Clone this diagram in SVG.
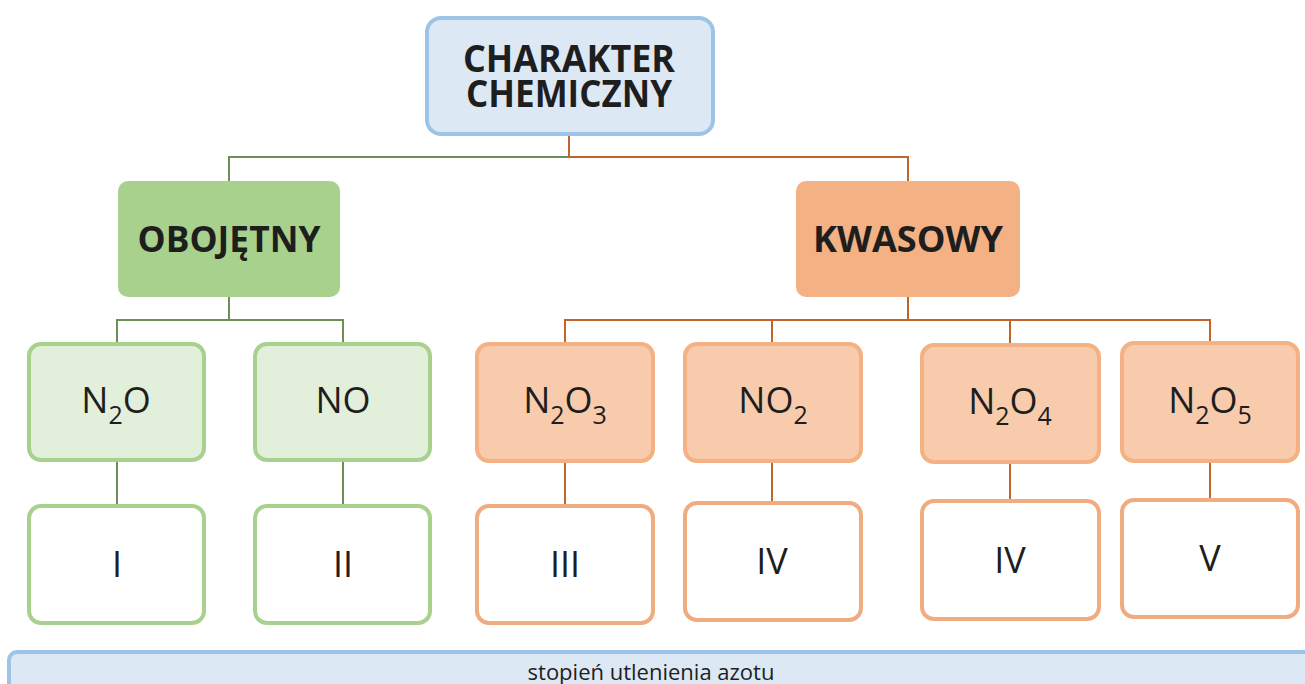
<svg xmlns="http://www.w3.org/2000/svg" width="1305" height="684" viewBox="0 0 1305 684">
<style>
text{font-family:"Open Sans","Liberation Sans",sans-serif;fill:#1e1e1e;text-anchor:middle}
.h{font-weight:bold;font-size:37px}
.m{font-weight:bold;font-size:35px}
.f{font-size:36px}
.s{font-size:25px}
.blue{fill:#dde8f5;stroke:#9dc3e6;stroke-width:4}
.gl{fill:#e2efda;stroke:#a9d18e;stroke-width:4}
.ol{fill:#f8cbad;stroke:#f4b183;stroke-width:4}
.gw{fill:#fff;stroke:#a9d18e;stroke-width:4}
.ow{fill:#fff;stroke:#f0ab80;stroke-width:4}
.cg{fill:none;stroke:#6b8f57;stroke-width:2}
.co{fill:none;stroke:#c0652e;stroke-width:2}
</style>
<rect width="1305" height="684" fill="#fff"/>
<g id="connectors">
<path class="cg" d="M569 157H229V181"/>
<path class="co" d="M569 135V157H908V181"/>
<path class="cg" d="M229 297V320M117 343V320H343V343M117 460V505M343 460V505"/>
<path class="co" d="M908 297V320M565 344V320H1210V342M772 320V343M1010 320V344M565 461V505M772 461V502M1010 462V500M1210 461V499"/>
</g>
<g id="root"><rect class="blue" x="427" y="18" width="286" height="116" rx="14"/><text class="h"><tspan x="569" y="72" textLength="212" lengthAdjust="spacingAndGlyphs">CHARAKTER</tspan><tspan x="569" y="107" textLength="206" lengthAdjust="spacingAndGlyphs">CHEMICZNY</tspan></text></g>
<g id="obojetny"><rect x="118" y="181" width="222" height="116" rx="10" fill="#a9d18e"/><text class="m" x="229" y="252" textLength="183" lengthAdjust="spacingAndGlyphs">OBOJĘTNY</text></g>
<g id="kwasowy"><rect x="796" y="181" width="224" height="116" rx="10" fill="#f4b183"/><text class="m" x="908" y="252" textLength="190" lengthAdjust="spacingAndGlyphs">KWASOWY</text></g>
<g id="n2o"><rect class="gl" x="29" y="344" width="175" height="116" rx="12"/><text class="f" x="116" y="413">N<tspan class="s" dy="11">2</tspan><tspan dy="-11">O</tspan></text></g>
<g id="no"><rect class="gl" x="255" y="344" width="175" height="116" rx="12"/><text class="f" x="343" y="413">NO</text></g>
<g id="n2o3"><rect class="ol" x="477" y="344" width="176" height="117" rx="12"/><text class="f" x="565" y="413">N<tspan class="s" dy="11">2</tspan><tspan dy="-11">O</tspan><tspan class="s" dy="11">3</tspan></text></g>
<g id="no2"><rect class="ol" x="685" y="344" width="176" height="117" rx="12"/><text class="f" x="773" y="413">NO<tspan class="s" dy="11">2</tspan></text></g>
<g id="n2o4"><rect class="ol" x="922" y="345" width="177" height="117" rx="12"/><text class="f" x="1010" y="414">N<tspan class="s" dy="11">2</tspan><tspan dy="-11">O</tspan><tspan class="s" dy="11">4</tspan></text></g>
<g id="n2o5"><rect class="ol" x="1122" y="343" width="176" height="118" rx="12"/><text class="f" x="1210" y="413">N<tspan class="s" dy="11">2</tspan><tspan dy="-11">O</tspan><tspan class="s" dy="11">5</tspan></text></g>
<g id="ox1"><rect class="gw" x="29" y="506" width="175" height="117" rx="12"/><text class="f" x="117" y="577">I</text></g>
<g id="ox2"><rect class="gw" x="255" y="506" width="175" height="117" rx="12"/><text class="f" x="343" y="577">II</text></g>
<g id="ox3"><rect class="ow" x="477" y="506" width="176" height="117" rx="12"/><text class="f" x="565" y="577">III</text></g>
<g id="ox4a"><rect class="ow" x="685" y="503" width="176" height="117" rx="12"/><text class="f" x="772" y="574">IV</text></g>
<g id="ox4b"><rect class="ow" x="922" y="501" width="177" height="118" rx="12"/><text class="f" x="1010" y="573">IV</text></g>
<g id="ox5"><rect class="ow" x="1122" y="500" width="176" height="117" rx="12"/><text class="f" x="1210" y="571">V</text></g>
<g id="legend"><rect class="blue" x="9" y="652" width="1310" height="50" rx="8"/><text x="651" y="680" font-size="22">stopień utlenienia azotu</text></g>
</svg>
